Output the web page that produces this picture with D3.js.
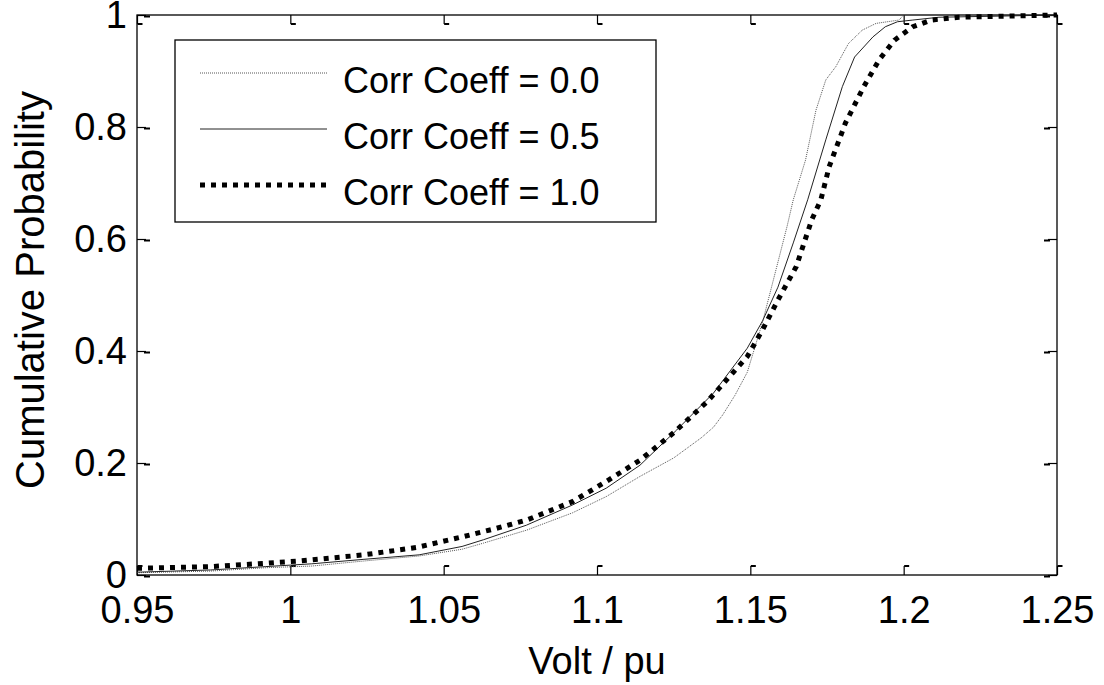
<!DOCTYPE html>
<html>
<head>
<meta charset="utf-8">
<script src="https://cdn.jsdelivr.net/npm/d3@7"></script>
<style>
  body { margin: 0; background: #fff; }
  svg { display: block; }
  text { font-family: "Liberation Sans", Arial, sans-serif; fill: #000; }
</style>
</head>
<body>
<div id="chart"></div>
<script>
const corr00 = [
    [0.950, 0.004], [0.974, 0.007], [0.992, 0.013], [1.007, 0.016], [1.024, 0.025],
    [1.042, 0.034], [1.056, 0.046], [1.063, 0.057], [1.077, 0.080], [1.092, 0.111],
    [1.103, 0.140], [1.114, 0.176], [1.125, 0.209], [1.134, 0.245], [1.138, 0.264],
    [1.141, 0.286], [1.145, 0.321], [1.149, 0.362], [1.154, 0.452], [1.1585, 0.548],
    [1.162, 0.623], [1.164, 0.670], [1.168, 0.741], [1.1714, 0.830], [1.1746, 0.884],
    [1.1779, 0.908], [1.182, 0.949], [1.1865, 0.973], [1.191, 0.985], [1.1985, 0.991],
    [1.200, 1.0], [1.250, 1.0]
];
const corr05 = [
    [0.950, 0.005], [0.974, 0.009], [0.992, 0.015], [1.007, 0.020], [1.024, 0.028],
    [1.042, 0.036], [1.056, 0.051], [1.063, 0.063], [1.077, 0.089], [1.092, 0.125],
    [1.103, 0.155], [1.114, 0.196], [1.126, 0.259], [1.138, 0.325], [1.149, 0.405],
    [1.154, 0.454], [1.159, 0.514], [1.164, 0.593], [1.1687, 0.670], [1.1746, 0.777],
    [1.180, 0.872], [1.184, 0.925], [1.190, 0.961], [1.194, 0.979], [1.198, 0.988],
    [1.203, 0.991], [1.2115, 0.996], [1.250, 1.0]
];
const corr10 = [
    [0.950, 0.012], [0.974, 0.015], [0.992, 0.021], [1.003, 0.025], [1.024, 0.036],
    [1.041, 0.049], [1.056, 0.068], [1.067, 0.083], [1.077, 0.098], [1.092, 0.131],
    [1.103, 0.167], [1.114, 0.205], [1.125, 0.254], [1.136, 0.310], [1.149, 0.390],
    [1.154, 0.438], [1.159, 0.491], [1.165, 0.551], [1.170, 0.634], [1.173, 0.670],
    [1.1757, 0.729], [1.181, 0.807], [1.187, 0.872], [1.192, 0.920], [1.197, 0.955],
    [1.203, 0.979], [1.209, 0.991], [1.218, 0.996], [1.250, 1.0]
];

const seriesNames = ['Corr Coeff = 0.0', 'Corr Coeff = 0.5', 'Corr Coeff = 1.0'];
const xTicks = [0.95, 1, 1.05, 1.1, 1.15, 1.2, 1.25];
const xTickLabels = ['0.95', '1', '1.05', '1.1', '1.15', '1.2', '1.25'];
const yTicks = [0, 0.2, 0.4, 0.6, 0.8, 1];
const yTickLabels = ['0', '0.2', '0.4', '0.6', '0.8', '1'];

const width = 1104, height = 685;
const margin = { top: 15, right: 47, bottom: 110, left: 137 };
const innerW = width - margin.left - margin.right;
const innerH = height - margin.top - margin.bottom;

const svg = d3.select('#chart')
    .append('svg')
    .attr('width', width)
    .attr('height', height);

const g = svg.append('g')
    .attr('transform', `translate(${margin.left},${margin.top})`);

const x = d3.scaleLinear().domain([0.95, 1.25]).range([0, innerW]);
const y = d3.scaleLinear().domain([0, 1]).range([innerH, 0]);

// line styles per series
const styles = [
    { stroke: '#555', width: 1, dash: '1,1' },
    { stroke: '#222', width: 1, dash: null },
    { stroke: '#000', width: 5, dash: '5,6' }
];

const line = d3.line().x(d => x(d[0])).y(d => y(d[1]));

// Axes (MATLAB style: inward ticks on all four sides)
const tickLen = 9;
const fmtX = (d, i) => xTickLabels[i];
const fmtY = (d, i) => yTickLabels[i];

function styleAxis(sel) {
    sel.select('.domain').remove();
    sel.selectAll('line').attr('stroke', '#000').attr('stroke-width', 1.2);
    sel.selectAll('text').attr('font-size', '38px').attr('fill', '#000');
}

const bottomAxis = g.append('g')
    .attr('transform', `translate(0,${innerH})`)
    .call(d3.axisBottom(x).tickValues(xTicks).tickFormat(fmtX)
        .tickSizeInner(-tickLen).tickSizeOuter(0).tickPadding(21))
    .call(styleAxis);

const topAxis = g.append('g')
    .call(d3.axisTop(x).tickValues(xTicks).tickFormat('')
        .tickSizeInner(-tickLen).tickSizeOuter(0))
    .call(styleAxis);

const leftAxis = g.append('g')
    .call(d3.axisLeft(y).tickValues(yTicks).tickFormat(fmtY)
        .tickSizeInner(-tickLen).tickSizeOuter(0).tickPadding(10))
    .call(styleAxis);

const rightAxis = g.append('g')
    .attr('transform', `translate(${innerW},0)`)
    .call(d3.axisRight(y).tickValues(yTicks).tickFormat('')
        .tickSizeInner(-tickLen).tickSizeOuter(0))
    .call(styleAxis);

// little serifs at the tick ends, like the exported MATLAB figure
bottomAxis.selectAll('.tick').append('line')
    .attr('x1', 0).attr('x2', 5).attr('y1', -tickLen).attr('y2', -tickLen)
    .attr('stroke', '#000').attr('stroke-width', 2);
topAxis.selectAll('.tick').append('line')
    .attr('x1', 0).attr('x2', 5).attr('y1', tickLen).attr('y2', tickLen)
    .attr('stroke', '#000').attr('stroke-width', 2);
leftAxis.selectAll('.tick').append('line')
    .attr('x1', tickLen - 2).attr('x2', tickLen + 4).attr('y1', 1).attr('y2', 1)
    .attr('stroke', '#000').attr('stroke-width', 2);
rightAxis.selectAll('.tick').append('line')
    .attr('x1', -tickLen + 2).attr('x2', -tickLen - 4).attr('y1', 1).attr('y2', 1)
    .attr('stroke', '#000').attr('stroke-width', 2);

// frame
g.append('rect')
    .attr('width', innerW)
    .attr('height', innerH)
    .attr('fill', 'none')
    .attr('stroke', '#000')
    .attr('stroke-width', 1.3);

// curves
[corr00, corr05, corr10].forEach((data, i) => {
    g.append('path')
        .datum(data)
        .attr('fill', 'none')
        .attr('stroke', styles[i].stroke)
        .attr('stroke-width', styles[i].width)
        .attr('stroke-dasharray', styles[i].dash)
        .attr('d', line);
});

// axis titles
svg.append('text')
    .attr('x', margin.left + innerW / 2)
    .attr('y', 674)
    .attr('text-anchor', 'middle')
    .attr('font-size', '38px')
    .text('Volt / pu');

svg.append('text')
    .attr('transform', `translate(44,290) rotate(-90)`)
    .attr('text-anchor', 'middle')
    .attr('font-size', '40px')
    .text('Cumulative Probability');

// legend
const legend = svg.append('g');
legend.append('rect')
    .attr('x', 175).attr('y', 40)
    .attr('width', 481).attr('height', 182)
    .attr('fill', '#fff')
    .attr('stroke', '#000')
    .attr('stroke-width', 1.3);

seriesNames.forEach((name, i) => {
    const base = 93 + i * 56;
    legend.append('line')
        .attr('x1', 200).attr('x2', 327)
        .attr('y1', base - 20).attr('y2', base - 20)
        .attr('stroke', styles[i].stroke)
        .attr('stroke-width', styles[i].width)
        .attr('stroke-dasharray', styles[i].dash);
    legend.append('text')
        .attr('x', 343)
        .attr('y', base)
        .attr('font-size', '36px')
        .text(name);
});
</script>
</body>
</html>
